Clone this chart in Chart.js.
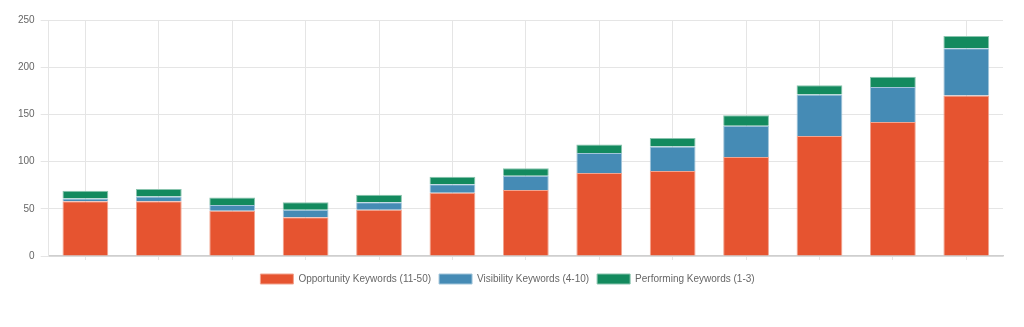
<!DOCTYPE html>
<html>
<head>
<meta charset="utf-8">
<script src="https://cdn.jsdelivr.net/npm/chart.js@4"></script>
<style>
  html, body { margin: 0; padding: 0; background: #fff; }
  #wrap { width: 1024px; height: 294px; position: relative; }
</style>
</head>
<body>
<div id="wrap"><canvas id="keywordChart"></canvas></div>
<script>
// keyword counts per snapshot, one entry per bar
const periods = ['', '', '', '', '', '', '', '', '', '', '', '', ''];
const opportunity = [58, 58, 48, 41, 49, 67, 70, 88, 90, 105, 127, 142, 170];
const visibility = [3, 5, 6, 8, 8, 9, 15, 21, 26, 33, 44, 37, 50];
const performing = [8, 8, 8, 8, 8, 8, 8, 9, 9, 11, 10, 11, 13];
const yTicks = [0, 50, 100, 150, 200, 250];

document.addEventListener('DOMContentLoaded', function() {
  const ctx = document.getElementById('keywordChart').getContext('2d');

  Chart.defaults.font.family = '"Liberation Sans", Arial, Helvetica, sans-serif';
  Chart.defaults.font.size = 10;
  Chart.defaults.color = '#666';

  new Chart(ctx, {
    type: 'bar',
    data: {
      labels: periods,
      datasets: [
        {
          label: 'Opportunity Keywords (11-50)',
          data: opportunity,
          backgroundColor: '#E65430',
          borderColor: '#F2A48F',
          borderWidth: 1
        },
        {
          label: 'Visibility Keywords (4-10)',
          data: visibility,
          backgroundColor: '#458BB5',
          borderColor: '#A2C5DA',
          borderWidth: 1
        },
        {
          label: 'Performing Keywords (1-3)',
          data: performing,
          backgroundColor: '#138A5E',
          borderColor: '#89C4AE',
          borderWidth: 1
        }
      ]
    },
    options: {
      responsive: true,
      maintainAspectRatio: false,
      animation: false,
      layout: {
        padding: { top: 20, right: 21, left: 12, bottom: 0 }
      },
      datasets: {
        bar: { barPercentage: 0.78, categoryPercentage: 0.8 }
      },
      scales: {
        x: {
          stacked: true,
          grid: { offset: false, color: '#e5e5e5', tickLength: 4 },
          border: { color: '#cfcfcf', width: 1.5 },
          ticks: { display: false },
          // leave a little room between the axis and the legend
          afterFit: function(axis) {
            axis.height += 6;
          }
        },
        y: {
          stacked: true,
          min: 0,
          max: 250,
          afterBuildTicks: function(axis) {
            axis.ticks = yTicks.map(function(v) { return { value: v }; });
          },
          grid: { color: '#e5e5e5' },
          border: { color: '#e5e5e5' },
          ticks: { padding: 6 }
        }
      },
      plugins: {
        legend: {
          position: 'bottom',
          labels: { boxWidth: 33, boxHeight: 10, padding: 8 }
        },
        tooltip: { enabled: false }
      }
    }
  });
});
</script>
</body>
</html>
